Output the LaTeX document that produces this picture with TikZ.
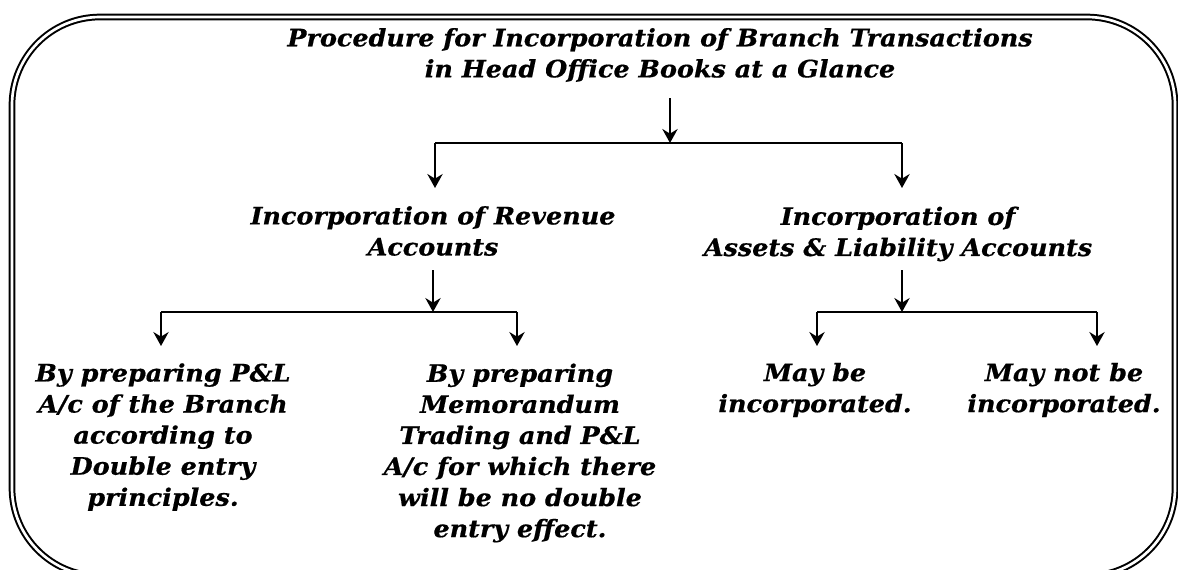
\documentclass[tikz,border=0pt]{standalone}
\usepackage{fontspec}
\setmainfont{DejaVu Serif}
\newfontface\bkfont{DejaVu Serif Bold Italic}[FakeStretch=1.06,FakeBold=0.6]
\usetikzlibrary{arrows.meta}
\begin{document}
\begin{tikzpicture}[x=0.75pt,y=-0.75pt,
  frame/.style={line width=1.5pt,double=white,double distance=2pt},
  conn/.style={line width=1.6pt},
  arr/.style={conn,-{Stealth[length=10.5pt,width=11.5pt,inset=3.5pt]}},
  txt/.style={align=center,inner sep=0pt,font=\fontsize{18}{23.3}\selectfont\bkfont}]
\useasboundingbox (0,0) rectangle (1178,569);
\draw[frame,rounded corners=66pt] (12,17) rectangle (1175,576);
% text nodes
\node[txt] (title) at (660,55) {Procedure for Incorporation of Branch Transactions\\in Head Office Books at a Glance};
\node[txt] (rev) at (433,231) {Incorporation of Revenue\\Accounts};
\node[txt] (ass) at (898,234) {Incorporation of\\Assets \& Liability Accounts};
\node[txt] (pl) at (163,437) {By preparing P\&L\\A/c of the Branch\\according to\\Double entry\\principles.};
\node[txt] (memo) at (520,453) {By preparing\\Memorandum\\Trading and P\&L\\A/c for which there\\will be no double\\entry effect.};
\node[txt] (may) at (815,390) {May be\\incorporated.};
\node[txt] (maynot) at (1064,390) {May not be\\incorporated.};
% coordinates
\coordinate (t0) at (670,98);
\coordinate (j1) at (670,143);
\coordinate (j1l) at (435,143);
\coordinate (j1r) at (902,143);
\coordinate (r0) at (433,270);
\coordinate (j2) at (433,312);
\coordinate (j2l) at (161,312);
\coordinate (j2r) at (517,312);
\coordinate (a0) at (902,270);
\coordinate (j3) at (902,312);
\coordinate (j3l) at (817,312);
\coordinate (j3r) at (1097,312);
% connectors
\draw[arr] (t0) -- (j1);
\draw[conn] (j1l) -- (j1r);
\draw[arr] (j1l) -- ++(0,45);
\draw[arr] (j1r) -- ++(0,45);
\draw[arr] (r0) -- (j2);
\draw[conn] (j2l) -- (j2r);
\draw[arr] (j2l) -- ++(0,34);
\draw[arr] (j2r) -- ++(0,34);
\draw[arr] (a0) -- (j3);
\draw[conn] (j3l) -- (j3r);
\draw[arr] (j3l) -- ++(0,34);
\draw[arr] (j3r) -- ++(0,34);
\end{tikzpicture}
\end{document}
